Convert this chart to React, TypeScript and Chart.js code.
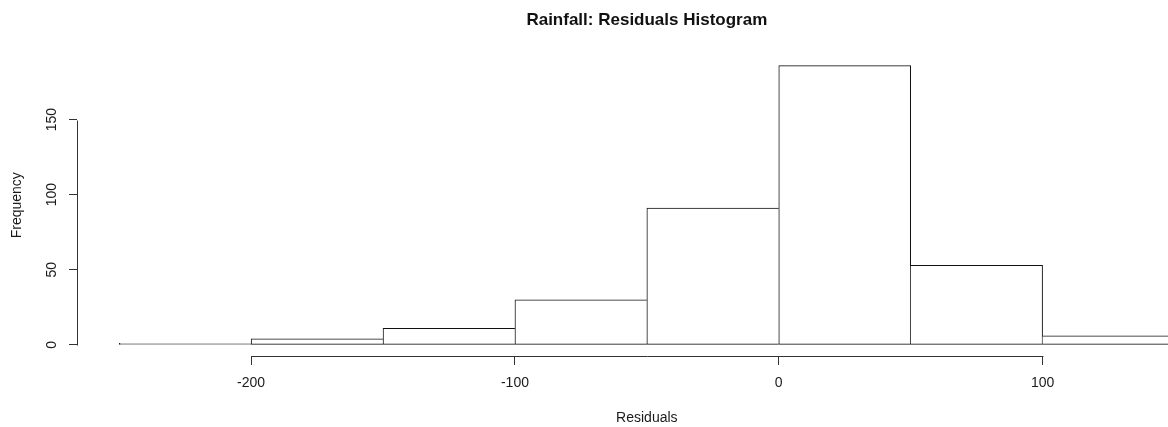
import React, { useEffect, useRef } from 'react';
import { Chart, registerables } from 'chart.js';

Chart.register(...registerables);

// ---- data ----
const BIN_EDGES = [-250, -200, -150, -100, -50, 0, 50, 100, 150];
const COUNTS = [1, 4, 11, 30, 91, 186, 53, 6];
const X_TICKS = [-200, -100, 0, 100];
const Y_TICKS = [0, 50, 100, 150];
const TITLE = 'Rainfall: Residuals Histogram';
const X_LABEL = 'Residuals';
const Y_LABEL = 'Frequency';

// ---- layout / style ----
const VIEW_W = 1168;
const VIEW_H = 427;
const CANVAS_W = 1230;
const PLOT_RIGHT = 1216.7;
const X_MIN = -266;
const X_MAX = 166;
const Y_MIN = -7.44;
const Y_MAX = 193.44;
const FONT = "'Liberation Sans', Arial, Helvetica, sans-serif";
const INK = '#1a1a1a';
const LINE = '#333333';

const axisLines = {
  id: 'axisLines',
  afterDraw(chart: any) {
    const { ctx, chartArea, scales } = chart;
    const x = scales.x;
    const y = scales.y;
    ctx.save();
    ctx.strokeStyle = LINE;
    ctx.lineWidth = 1;
    ctx.beginPath();
    const yb = Math.round(chartArea.bottom) + 0.5;
    ctx.moveTo(Math.round(x.getPixelForValue(X_TICKS[0])) + 0.5, yb);
    ctx.lineTo(Math.round(x.getPixelForValue(X_TICKS[X_TICKS.length - 1])) + 0.5, yb);
    const xl = Math.round(chartArea.left) + 0.5;
    ctx.moveTo(xl, Math.round(y.getPixelForValue(Y_TICKS[0])) + 0.5);
    ctx.lineTo(xl, Math.round(y.getPixelForValue(Y_TICKS[Y_TICKS.length - 1])) + 0.5);
    ctx.stroke();
    ctx.restore();
  },
};

export default function App() {
  const ref = useRef<HTMLCanvasElement | null>(null);

  useEffect(() => {
    if (!ref.current) return;
    const data = COUNTS.map((c, i) => ({ x: (BIN_EDGES[i] + BIN_EDGES[i + 1]) / 2, y: c }));
    const chart = new Chart(ref.current, {
      type: 'bar',
      data: {
        datasets: [
          {
            data,
            backgroundColor: '#ffffff',
            borderColor: '#111111',
            borderSkipped: false,
            borderWidth: (ctx: any) => {
              const i = ctx.dataIndex;
              const c = COUNTS[i];
              const prev = i > 0 ? COUNTS[i - 1] : 0;
              const next = i < COUNTS.length - 1 ? COUNTS[i + 1] : 0;
              return { top: 1, bottom: 1, left: c >= prev ? 1 : 0, right: c > next ? 1 : 0 };
            },
            barPercentage: 1,
            categoryPercentage: 1,
          } as any,
        ],
      },
      options: {
        responsive: false,
        animation: false,
        devicePixelRatio: 1,
        events: [],
        layout: { padding: { left: 0, right: CANVAS_W - PLOT_RIGHT, top: 0, bottom: 0 } },
        plugins: {
          legend: { display: false },
          tooltip: { enabled: false },
          title: {
            display: true,
            text: TITLE,
            fullSize: false,
            color: '#111',
            font: { family: FONT, size: 17, weight: 'bold' },
            padding: { top: 10, bottom: 24 },
          },
        },
        scales: {
          x: {
            type: 'linear',
            min: X_MIN,
            max: X_MAX,
            offset: false,
            afterBuildTicks: (s: any) => {
              s.ticks = X_TICKS.map((v) => ({ value: v }));
            },
            afterFit: (s: any) => {
              s.height = 71;
            },
            grid: { offset: false, drawOnChartArea: false, drawTicks: true, tickLength: 9, color: LINE },
            border: { display: false },
            ticks: {
              padding: 10,
              color: INK,
              font: { family: FONT, size: 14 },
              maxRotation: 0,
              minRotation: 0,
              autoSkip: false,
            },
            title: {
              display: true,
              text: X_LABEL,
              color: INK,
              font: { family: FONT, size: 14 },
              padding: { top: 0, bottom: 0 },
            },
          },
          y: {
            type: 'linear',
            min: Y_MIN,
            max: Y_MAX,
            afterBuildTicks: (s: any) => {
              s.ticks = Y_TICKS.map((v) => ({ value: v }));
            },
            afterFit: (s: any) => {
              s.width = 77;
            },
            grid: { drawOnChartArea: false, drawTicks: true, tickLength: 8, color: LINE },
            border: { display: false },
            ticks: {
              padding: 5,
              color: INK,
              font: { family: FONT, size: 14 },
              minRotation: 90,
              maxRotation: 90,
              crossAlign: 'center',
              autoSkip: false,
            },
            title: {
              display: true,
              text: Y_LABEL,
              color: INK,
              font: { family: FONT, size: 14 },
              padding: { top: 8.6, bottom: 0 },
            },
          },
        },
      } as any,
      plugins: [axisLines],
    });
    return () => chart.destroy();
  }, []);

  return (
    <div
      style={{
        position: 'absolute',
        left: 0,
        top: 0,
        width: VIEW_W,
        height: VIEW_H,
        overflow: 'hidden',
        background: '#ffffff',
      }}
    >
      <canvas ref={ref} width={CANVAS_W} height={VIEW_H} style={{ display: 'block' }} />
    </div>
  );
}
